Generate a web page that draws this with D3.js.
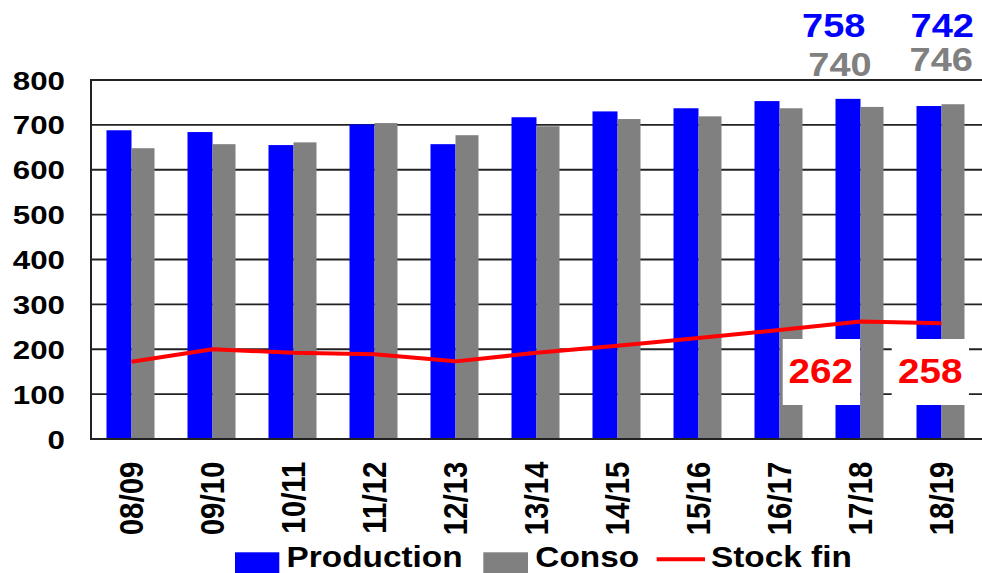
<!DOCTYPE html>
<html>
<head>
<meta charset="utf-8">
<script src="https://cdn.jsdelivr.net/npm/d3@7"></script>
<style>
  html, body { margin: 0; padding: 0; background: #fff; }
  svg { display: block; }
  text { font-family: "Liberation Sans", Arial, Helvetica, sans-serif; font-weight: bold; }
</style>
</head>
<body>
<svg id="chart" width="982" height="573"></svg>
<script>
// ---- data ----
const categories = ["08/09","09/10","10/11","11/12","12/13","13/14","14/15","15/16","16/17","17/18","18/19"];
const production = [688, 684, 655, 701, 657, 717, 730, 737, 753, 758, 742];
const conso      = [648, 657, 661, 704, 677, 697, 713, 719, 737, 740, 746];
const stockFin   = [172, 200, 192, 189, 173, 192, 208, 225, 243, 262, 258];
const yTicks     = [0, 100, 200, 300, 400, 500, 600, 700, 800];
const seriesNames = ["Production", "Conso", "Stock fin"];
const seriesColors = ["#0000FF", "#808080", "#FF0000"];

// ---- layout ----
const W = 982, H = 573;
const plot = { left: 91, right: 982, top: 80, bottom: 439 };
const SX = 1.15; // horizontal glyph stretch of the reference

const svg = d3.select("#chart");

const x = d3.scaleBand().domain(categories).range([plot.left, plot.right]).paddingInner(0).paddingOuter(0);
const y = d3.scaleLinear().domain([0, 800]).range([plot.bottom, plot.top]);
const center = c => x(c) + x.bandwidth() / 2;

// gridlines
svg.append("g").selectAll("line").data(yTicks.filter(t => t > 0)).join("line")
  .attr("x1", plot.left).attr("x2", plot.right)
  .attr("y1", d => y(d)).attr("y2", d => y(d))
  .attr("stroke", "#222").attr("stroke-width", 1.8);

// bars
const blueW = 25, grayW = 23;
svg.append("g").selectAll("rect").data(categories).join("rect")
  .attr("x", c => center(c) - blueW)
  .attr("width", blueW)
  .attr("y", (c, i) => y(production[i]))
  .attr("height", (c, i) => y(0) - y(production[i]))
  .attr("fill", seriesColors[0]);
svg.append("g").selectAll("rect").data(categories).join("rect")
  .attr("x", c => center(c))
  .attr("width", grayW)
  .attr("y", (c, i) => y(conso[i]))
  .attr("height", (c, i) => y(0) - y(conso[i]))
  .attr("fill", seriesColors[1]);

// axes lines
svg.append("line").attr("x1", plot.left).attr("x2", plot.right)
  .attr("y1", plot.bottom).attr("y2", plot.bottom)
  .attr("stroke", "#222").attr("stroke-width", 2);
svg.append("line").attr("x1", plot.left).attr("x2", plot.left)
  .attr("y1", plot.top - 1).attr("y2", plot.bottom + 1)
  .attr("stroke", "#222").attr("stroke-width", 2);

// y tick labels
svg.append("g").selectAll("text").data(yTicks).join("text")
  .attr("transform", d => `translate(65,${y(d) + 9.5}) scale(1.18,1)`)
  .attr("text-anchor", "end")
  .attr("font-size", 26.5)
  .attr("fill", "#000")
  .text(d => d);

// x tick labels (rotated)
svg.append("g").selectAll("text").data(categories).join("text")
  .attr("transform", c => `translate(${center(c) - 1},461.5) scale(${SX},1) rotate(-90)`)
  .attr("text-anchor", "end")
  .attr("dy", "0.36em")
  .attr("font-size", 29.5)
  .attr("fill", "#000")
  .text(c => c);

// white label boxes for stock values (annotations on last two seasons)
const stockAnn = [
  { cat: "17/18", boxL: -77.8, boxR: -0.5, tx: -39.7 },
  { cat: "18/19", boxL: -49.8, boxR: 27.5, tx: -11.3 }
];
stockAnn.forEach(a => {
  const cx = center(a.cat);
  svg.append("rect")
    .attr("x", cx + a.boxL).attr("y", 339)
    .attr("width", a.boxR - a.boxL).attr("height", 66)
    .attr("fill", "#fff");
});

// stock line
const line = d3.line().x((d, i) => center(categories[i])).y(d => y(d));
svg.append("path").datum(stockFin)
  .attr("d", line)
  .attr("fill", "none")
  .attr("stroke", seriesColors[2])
  .attr("stroke-width", 4)
  .attr("stroke-linejoin", "round");

// stock value labels
stockAnn.forEach(a => {
  const i = categories.indexOf(a.cat);
  svg.append("text")
    .attr("transform", `translate(${center(a.cat) + a.tx},383.3) scale(1.12,1)`)
    .attr("text-anchor", "middle")
    .attr("font-size", 34.5)
    .attr("fill", seriesColors[2])
    .text(stockFin[i]);
});

// top value labels (production / conso for last two seasons)
const topAnn = [
  { cat: "17/18", series: 0, dx: -26.8, base: 37.3 },
  { cat: "17/18", series: 1, dx: -20.5, base: 76 },
  { cat: "18/19", series: 0, dx: 0.7,   base: 37.3 },
  { cat: "18/19", series: 1, dx: -0.3,  base: 70.7 }
];
topAnn.forEach(a => {
  const i = categories.indexOf(a.cat);
  const v = a.series === 0 ? production[i] : conso[i];
  svg.append("text")
    .attr("transform", `translate(${center(a.cat) + a.dx},${a.base}) scale(${SX},1)`)
    .attr("text-anchor", "middle")
    .attr("font-size", 33)
    .attr("fill", seriesColors[a.series])
    .text(v);
});

// legend
const legend = [
  { sw: [235, 279.3], tx: 286.6 },
  { sw: [483.3, 528], tx: 535.3 },
  { sw: [656.7, 705], tx: 711 }
];
legend.forEach((l, k) => {
  if (k < 2) {
    svg.append("rect").attr("x", l.sw[0]).attr("y", 552.3)
      .attr("width", l.sw[1] - l.sw[0]).attr("height", 22)
      .attr("fill", seriesColors[k]);
  } else {
    svg.append("line").attr("x1", l.sw[0]).attr("x2", l.sw[1])
      .attr("y1", 559.3).attr("y2", 559.3)
      .attr("stroke", seriesColors[k]).attr("stroke-width", 4);
  }
  svg.append("text")
    .attr("transform", `translate(${l.tx},567) scale(${SX},1)`)
    .attr("font-size", 29)
    .attr("fill", "#000")
    .text(seriesNames[k]);
});
</script>
</body>
</html>
